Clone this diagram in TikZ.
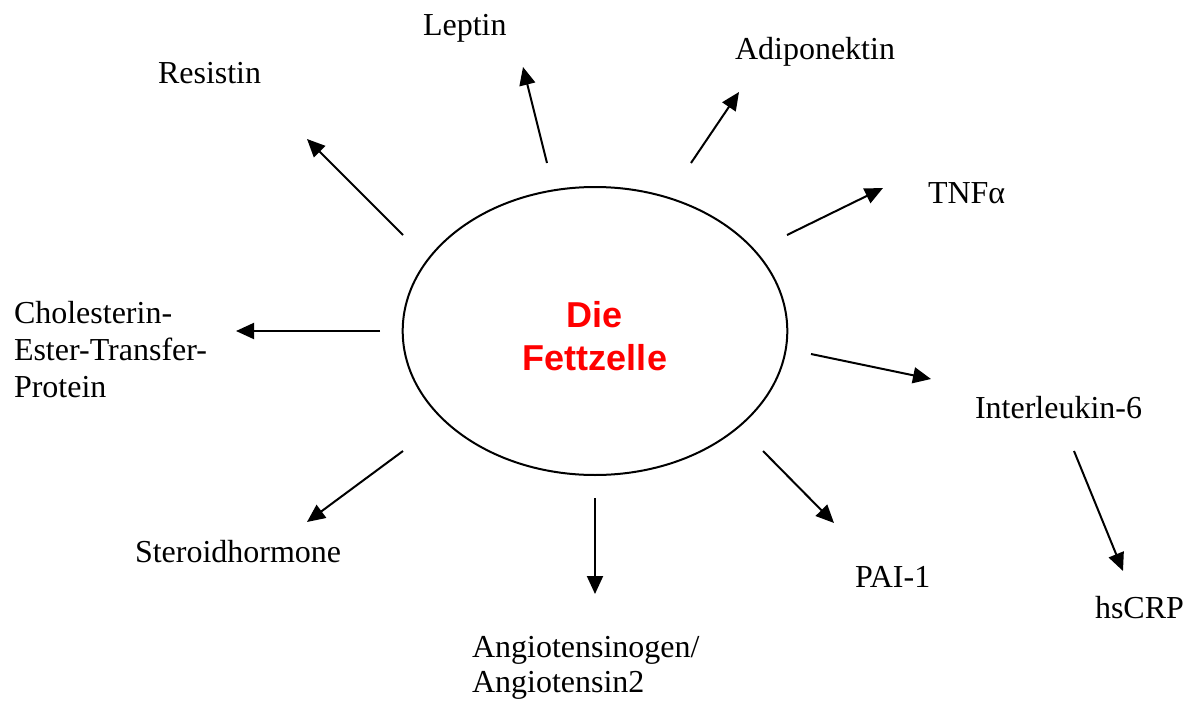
\documentclass[tikz,border=0pt]{standalone}
\usepackage{fontspec}
\setmainfont{Liberation Serif}
\newfontfamily\arialfont{Liberation Sans}
\usetikzlibrary{arrows.meta,shapes.geometric}
\tikzset{
  lbl/.style={inner sep=0pt, outer sep=0pt, font=\fontsize{16}{18.5}\selectfont, align=left},
  arr/.style={line width=1pt, -{Triangle[length=9pt,width=8pt]}},
  cellshape/.style={draw, line width=1pt, ellipse, minimum width=192.3pt, minimum height=144pt, inner sep=0pt},
  celltxt/.style={inner sep=0pt, text=red, align=center, font=\arialfont\bfseries\fontsize{18}{21.5}\selectfont}
}
\begin{document}
\begin{tikzpicture}[x=0.5pt,y=-0.5pt]
\useasboundingbox (0,0) rectangle (1191,702);
% cell
\node[cellshape] (cell) at (595,331) {};
\node[celltxt, anchor=base] (celltext) at (595,370) {Die\\Fettzelle};
% labels
\node[lbl, anchor=base west] (leptin) at (423,35) {Leptin};
\node[lbl, anchor=base west] (resistin) at (158,83) {Resistin};
\node[lbl, anchor=base west] (adipo) at (735,59) {Adiponektin};
\node[lbl, anchor=base west] (tnf) at (928,203) {TNFα};
\node[lbl, anchor=base west] (cetp) at (14,397) {Cholesterin-\\Ester-Transfer-\\Protein};
\node[lbl, anchor=base west] (il6) at (975,418) {Interleukin-6};
\node[lbl, anchor=base west] (steroid) at (135,562) {Steroidhormone};
\node[lbl, anchor=base west, font=\fontsize{16}{17.5}\selectfont] (angio) at (472,692) {Angiotensinogen/\\Angiotensin2};
\node[lbl, anchor=base west] (pai) at (855,587) {PAI-1};
\node[lbl, anchor=base west] (crp) at (1095,618) {hsCRP};
% arrow end points
\coordinate (rS) at (403,235); \coordinate (rE) at (307,139);
\coordinate (lS) at (547,163); \coordinate (lE) at (523,67);
\coordinate (aS) at (691,163); \coordinate (aE) at (739,92);
\coordinate (tS) at (787,235); \coordinate (tE) at (883,188);
\coordinate (iS) at (811,354); \coordinate (iE) at (931,379);
\coordinate (pS) at (763,451); \coordinate (pE) at (834,523);
\coordinate (hS) at (1074,451); \coordinate (hE) at (1123,571);
\coordinate (gS) at (595,498); \coordinate (gE) at (595,594);
\coordinate (sS) at (403,451); \coordinate (sE) at (307,522);
\coordinate (cS) at (380,331); \coordinate (cE) at (236,331);
% arrows
\draw[arr] (rS) -- (rE);
\draw[arr] (lS) -- (lE);
\draw[arr] (aS) -- (aE);
\draw[arr] (tS) -- (tE);
\draw[arr] (iS) -- (iE);
\draw[arr] (pS) -- (pE);
\draw[arr] (hS) -- (hE);
\draw[arr] (gS) -- (gE);
\draw[arr] (sS) -- (sE);
\draw[arr] (cS) -- (cE);
\end{tikzpicture}
\end{document}
